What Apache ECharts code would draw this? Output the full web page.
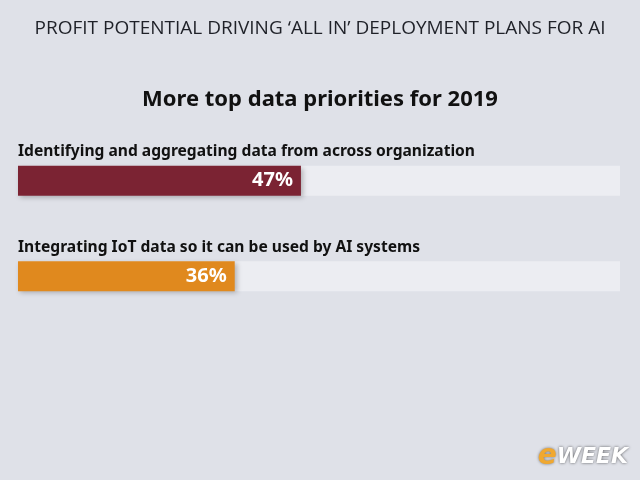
<!DOCTYPE html>
<html>
<head>
<meta charset="utf-8">
<script src="https://cdn.jsdelivr.net/npm/echarts@6/dist/echarts.min.js"></script>
<style>
  html, body { margin: 0; padding: 0; background: #dfe1e8; }
  #main { width: 640px; height: 480px; }
</style>
</head>
<body>
<div id="main"></div>
<script>
// data
var categories = [
    'Identifying and aggregating data from across organization',
    'Integrating IoT data so it can be used by AI systems'
];
var values = [47, 36];
var barColors = ['#7b2333', '#e0891e'];
var trackValues = [100, 100];

var myChart = echarts.init(document.getElementById('main'), null, { renderer: 'canvas' });

var option = {
    backgroundColor: '#dfe1e8',
    animation: false,
    title: [{
        text: 'PROFIT POTENTIAL DRIVING \u2018ALL IN\u2019 DEPLOYMENT PLANS FOR AI',
        left: 'center',
        top: 14,
        textStyle: {
            fontFamily: 'Open Sans',
            fontWeight: 'normal',
            fontSize: 19,
            color: '#1f2128'
        }
    }, {
        text: 'More top data priorities for 2019',
        left: 'center',
        top: 84,
        textStyle: {
            fontFamily: 'Noto Sans',
            fontWeight: 'bold',
            fontSize: 22,
            color: '#111111'
        }
    }],
    grid: {
        left: 18,
        right: 20,
        top: 133,
        height: 191
    },
    xAxis: {
        type: 'value',
        min: 0,
        max: 100,
        show: false
    },
    yAxis: {
        type: 'category',
        data: categories,
        inverse: true,
        show: false
    },
    series: [{
        // light track behind each bar, carries the category label
        type: 'bar',
        barWidth: 30,
        barGap: '-100%',
        silent: true,
        z: 1,
        itemStyle: { color: '#ecedf2' },
        label: {
            show: true,
            position: [0, -22],
            formatter: function (p) { return categories[p.dataIndex]; },
            fontFamily: 'Noto Sans',
            fontWeight: 'bold',
            fontSize: 15.6,
            color: '#111111'
        },
        data: trackValues
    }, {
        type: 'bar',
        barWidth: 30,
        z: 2,
        itemStyle: {
            shadowColor: 'rgba(0,0,0,0.25)',
            shadowBlur: 5,
            shadowOffsetX: 2,
            shadowOffsetY: 2
        },
        label: {
            show: true,
            position: 'insideRight',
            distance: 8,
            formatter: '{c}%',
            fontFamily: 'Noto Sans',
            fontWeight: 'bold',
            fontSize: 20,
            color: '#ffffff'
        },
        data: values.map(function (v, i) {
            return { value: v, itemStyle: { color: barColors[i] } };
        })
    }],
    graphic: [{
        type: 'text',
        right: 12,
        bottom: 9,
        style: {
            text: '{e|e}{w|WEEK}',
            rich: {
                e: {
                    fontFamily: 'DejaVu Sans',
                    fontStyle: 'italic',
                    fontWeight: 'bold',
                    fontSize: 28,
                    fill: '#f0a830',
                    textShadowColor: 'rgba(0,0,0,0.5)',
                    textShadowBlur: 3
                },
                w: {
                    fontFamily: 'DejaVu Sans',
                    fontStyle: 'italic',
                    fontWeight: 'bold',
                    fontSize: 22,
                    fill: '#ffffff',
                    textShadowColor: 'rgba(0,0,0,0.6)',
                    textShadowBlur: 3
                }
            }
        }
    }]
};

myChart.setOption(option);
</script>
</body>
</html>
